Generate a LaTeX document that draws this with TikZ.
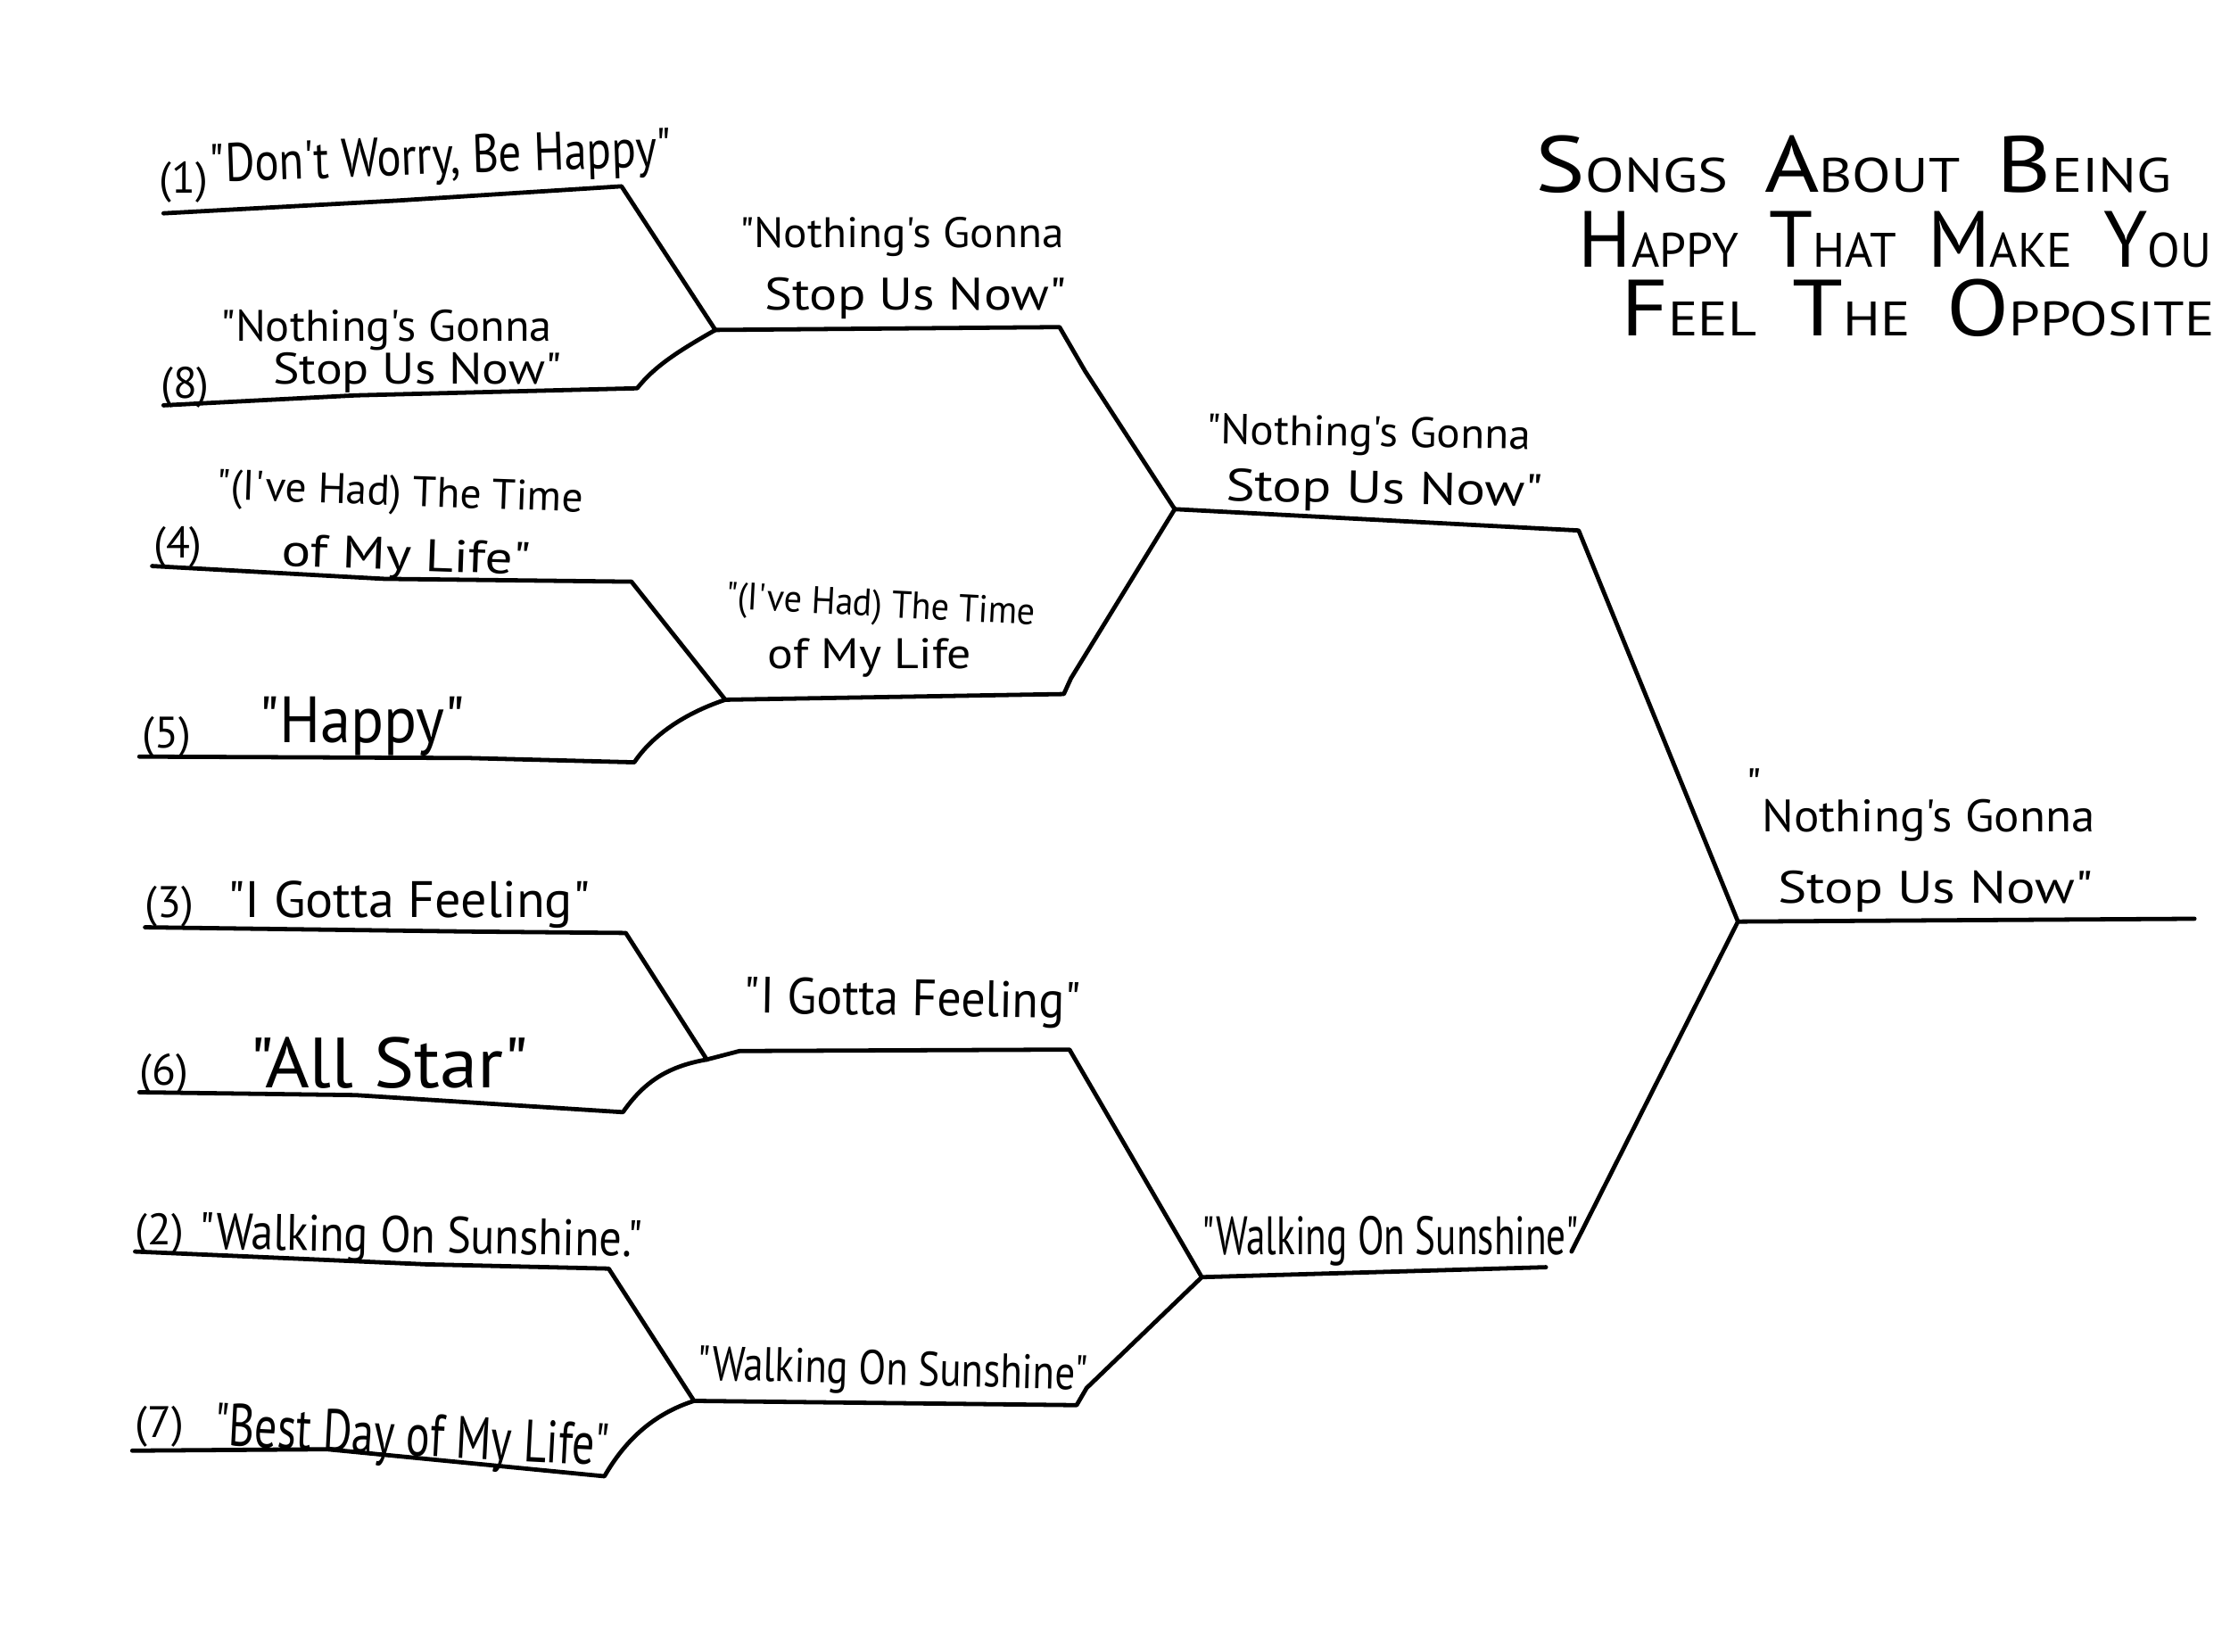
\documentclass[tikz,border=0pt]{standalone}
\usepackage{fontspec}
\setmainfont{PT Sans}[Ligatures=TeXOff]
\usepackage{graphicx}
\newcommand\hw[3]{\resizebox{#1pt}{\height}{\fontsize{#2}{#2}\selectfont #3}}
\newcommand\tsc[2]{{\fontsize{56}{56}\selectfont #1}{\fontsize{34}{34}\selectfont #2}}
\tikzset{
  bracket/.style={line width=3pt, line cap=round, line join=round},
  lbl/.style={anchor=base west, inner sep=0pt, outer sep=0pt},
  seed/.style={lbl, font=\fontsize{31}{31}\selectfont}
}
\begin{document}
\begin{tikzpicture}[x=1pt,y=-1pt]
\useasboundingbox[fill=white] (0,0) rectangle (1568,1161);
% ---- coordinates
\coordinate (a1) at (115,150); \coordinate (m1) at (280,141); \coordinate (b1) at (437,131);
\coordinate (a8) at (115,285); \coordinate (m8) at (250,278); \coordinate (b8) at (448,273);
\coordinate (j18) at (503,232);
\coordinate (a4) at (107,398); \coordinate (m4) at (270,407); \coordinate (b4) at (444,409);
\coordinate (a5) at (98,532); \coordinate (m5) at (330,533); \coordinate (b5) at (446,536);
\coordinate (j45) at (510,492);
\coordinate (a3) at (102,652); \coordinate (m3) at (330,655); \coordinate (b3) at (440,656);
\coordinate (a6) at (98,768); \coordinate (m6) at (250,770); \coordinate (b6) at (438,782);
\coordinate (j36) at (497,745);
\coordinate (a2) at (95,880); \coordinate (m2) at (300,889); \coordinate (b2) at (428,892);
\coordinate (a7) at (93,1020); \coordinate (m7) at (230,1019); \coordinate (b7) at (425,1038);
\coordinate (j27) at (488,985);
\coordinate (c18) at (745,230); \coordinate (c18k) at (763,261);
\coordinate (c45) at (748,488); \coordinate (c45k) at (753,477);
\coordinate (k1) at (826,358);
\coordinate (c36s) at (520,739); \coordinate (c36) at (752,738);
\coordinate (c27) at (757,988); \coordinate (c27k) at (764,976);
\coordinate (k2) at (845,898);
\coordinate (d1) at (1110,373);
\coordinate (d2) at (1087,891);
\coordinate (e2) at (1105,880);
\coordinate (fin) at (1222,648);
\coordinate (g) at (1543,646);
% ---- bracket lines
\draw[bracket] (a1) -- (m1) -- (b1) -- (j18);
\draw[bracket] (a8) -- (m8) -- (b8) .. controls (460,258) and (475,248) .. (j18);
\draw[bracket] (j18) -- (c18) -- (c18k) -- (k1);
\draw[bracket] (a4) -- (m4) -- (b4) -- (j45);
\draw[bracket] (a5) -- (m5) -- (b5) .. controls (458,518) and (480,502) .. (j45);
\draw[bracket] (j45) -- (c45) -- (c45k) -- (k1);
\draw[bracket] (k1) -- (d1) -- (fin);
\draw[bracket] (a3) -- (m3) -- (b3) -- (j36);
\draw[bracket] (a6) -- (m6) -- (b6) .. controls (452,762) and (468,750) .. (j36);
\draw[bracket] (j36) -- (c36s) -- (c36) -- (k2);
\draw[bracket] (a2) -- (m2) -- (b2) -- (j27);
\draw[bracket] (a7) -- (m7) -- (b7) .. controls (440,1012) and (460,994) .. (j27);
\draw[bracket] (j27) -- (c27) -- (c27k) -- (k2);
\draw[bracket] (k2) -- (d2);
\draw[bracket] (e2) -- (fin) -- (g);
% ---- seeds
\node[seed] (n1) at (112,136) {(1)};
\node[seed] (n8) at (113,280) {(8)};
\node[seed] (n4) at (108,392) {(4)};
\node[seed] (n5) at (100,526) {(5)};
\node[seed] (n3) at (102,645) {(3)};
\node[seed] (n6) at (98,763) {(6)};
\node[seed] (n2) at (95,875) {(2)};
\node[seed] (n7) at (95,1011) {(7)};
% ---- first round titles
\node[lbl, rotate=2] (t1) at (148,128) {\hw{325}{38}{"Don't Worry, Be Happy"}};
\node[lbl] (t8a) at (155,240) {\hw{233}{31}{"Nothing's Gonna}};
\node[lbl] (t8b) at (192,270) {\hw{203}{31}{Stop Us Now"}};
\node[lbl, rotate=-2] (t4a) at (152,351) {\hw{258}{30}{"(I've Had) The Time}};
\node[lbl, rotate=-2] (t4b) at (198,398) {\hw{175}{32}{of My Life"}};
\node[lbl] (t5) at (182,522) {\hw{145}{46}{"Happy"}};
\node[lbl] (t3) at (160,645) {\hw{255}{36}{"I Gotta Feeling"}};
\node[lbl] (t6) at (175,765) {\hw{197}{50}{"All Star"}};
\node[lbl, rotate=-1] (t2) at (140,878) {\hw{312}{36}{"Walking On Sunshine."}};
\node[lbl, rotate=-3] (t7) at (150,1016) {\hw{278}{42}{"Best Day of My Life"}};
% ---- second round
\node[lbl] (u18a) at (520,174) {\hw{228}{30}{"Nothing's Gonna}};
\node[lbl] (u18b) at (538,218) {\hw{212}{32}{Stop Us Now"}};
\node[lbl, rotate=-3] (u45a) at (510,428) {\hw{218}{27}{"(I've Had) The Time}};
\node[lbl] (u45b) at (540,470) {\hw{143}{30}{of My Life}};
\node[lbl, rotate=-1] (u36) at (523,712) {\hw{237}{36}{"I Gotta Feeling"}};
\node[lbl, rotate=-1.5] (u27) at (490,970) {\hw{275}{34}{"Walking On Sunshine"}};
% ---- third round
\node[lbl, rotate=-1] (v1a) at (848,312) {\hw{228}{30}{"Nothing's Gonna}};
\node[lbl, rotate=-1] (v1b) at (862,352) {\hw{223}{32}{Stop Us Now"}};
\node[lbl] (v2) at (845,882) {\hw{265}{38}{"Walking On Sunshine"}};
% ---- final
\node[lbl] (wa) at (1228,585) {\hw{245}{32}{\raisebox{22pt}{"}Nothing's Gonna}};
\node[lbl] (wb) at (1250,635) {\hw{222}{32}{Stop Us Now"}};
% ---- title
\node[lbl] (h1) at (1080,135) {\resizebox{447pt}{\height}{\tsc{S}{ONGS}\hspace{22pt}\tsc{A}{BOUT}\hspace{22pt}\tsc{B}{EING}}};
\node[lbl] (h2) at (1110,188) {\resizebox{445pt}{\height}{\tsc{H}{APPY}\hspace{22pt}\tsc{T}{HAT}\hspace{22pt}\tsc{M}{AKE}\hspace{22pt}\tsc{Y}{OU}}};
\node[lbl] (h3) at (1140,236) {\resizebox{417pt}{\height}{\tsc{F}{EEL}\hspace{22pt}\tsc{T}{HE}\hspace{22pt}\tsc{O}{PPOSITE}}};
\end{tikzpicture}
\end{document}
